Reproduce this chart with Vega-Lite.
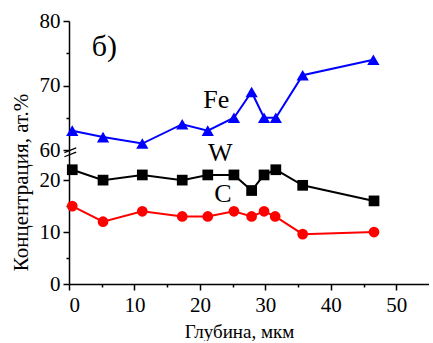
{
  "$schema": "https://vega.github.io/schema/vega-lite/v6.json",
  "autosize": "pad",
  "padding": {"left": 9, "top": 10, "right": 0, "bottom": 0},
  "background": "white",
  "spacing": 0,
  "bounds": "flush",
  "config": {
    "font": "Liberation Serif",
    "view": {"stroke": null},
    "axis": {
      "labelFont": "Liberation Serif", "titleFont": "Liberation Serif",
      "labelFontSize": 21, "titleFontSize": 19, "titleFontWeight": "normal",
      "domainColor": "black", "tickColor": "black", "labelColor": "black", "titleColor": "black",
      "domainWidth": 1.5, "tickWidth": 1.5, "grid": false, "labelPadding": 3
    }
  },
  "datasets": {
    "fe": [
      {"depth": 0.5, "conc": 63}, {"depth": 5.2, "conc": 62}, {"depth": 11.2, "conc": 61},
      {"depth": 17.3, "conc": 64}, {"depth": 21.2, "conc": 63}, {"depth": 25.2, "conc": 65},
      {"depth": 27.9, "conc": 69}, {"depth": 29.8, "conc": 65}, {"depth": 31.6, "conc": 65},
      {"depth": 35.7, "conc": 71.6}, {"depth": 46.5, "conc": 74}
    ],
    "wc": [
      {"el": "W", "depth": 0.5, "conc": 22}, {"el": "W", "depth": 5.2, "conc": 20}, {"el": "W", "depth": 11.2, "conc": 21},
      {"el": "W", "depth": 17.3, "conc": 20}, {"el": "W", "depth": 21.2, "conc": 21}, {"el": "W", "depth": 25.2, "conc": 21},
      {"el": "W", "depth": 27.9, "conc": 18}, {"el": "W", "depth": 29.8, "conc": 21}, {"el": "W", "depth": 31.6, "conc": 22},
      {"el": "W", "depth": 35.7, "conc": 19}, {"el": "W", "depth": 46.6, "conc": 16},
      {"el": "C", "depth": 0.5, "conc": 15}, {"el": "C", "depth": 5.2, "conc": 12}, {"el": "C", "depth": 11.2, "conc": 14},
      {"el": "C", "depth": 17.3, "conc": 13}, {"el": "C", "depth": 21.2, "conc": 13}, {"el": "C", "depth": 25.2, "conc": 14},
      {"el": "C", "depth": 27.9, "conc": 13}, {"el": "C", "depth": 29.8, "conc": 14}, {"el": "C", "depth": 31.5, "conc": 13},
      {"el": "C", "depth": 35.7, "conc": 9.6}, {"el": "C", "depth": 46.6, "conc": 10}
    ]
  },
  "vconcat": [
    {
      "width": 360, "height": 129,
      "data": {"name": "fe"},
      "encoding": {
        "x": {"field": "depth", "type": "quantitative", "scale": {"domain": [0, 55], "nice": false}, "axis": null},
        "y": {"field": "conc", "type": "quantitative", "scale": {"domain": [60, 80], "nice": false, "zero": false},
          "axis": {"title": null, "values": [60, 65, 70, 75, 80], "labelFont": "Liberation Serif",
            "labelExpr": "datum.value % 10 === 0 ? datum.label : ''",
            "tickSize": {"condition": {"test": "datum.value % 10 === 0", "value": 6}, "value": 3}}}
      },
      "layer": [
        {"mark": {"type": "line", "color": "#0000ff", "strokeWidth": 2}},
        {"mark": {"type": "point", "shape": "triangle-up", "size": 150, "filled": true, "color": "#0000ff", "opacity": 1}},
        {"transform": [{"filter": "datum.depth === 0.5"}],
          "mark": {"type": "text", "text": "б)", "fontSize": 30, "font": "Liberation Serif", "fontWeight": "normal", "align": "center", "baseline": "middle", "fill": "black"},
          "encoding": {"x": {"datum": 5.4, "type": "quantitative"}, "y": {"datum": 76, "type": "quantitative"}}},
        {"transform": [{"filter": "datum.depth === 0.5"}],
          "mark": {"type": "text", "text": "Fe", "fontSize": 26, "font": "Liberation Serif", "fontWeight": "normal", "align": "center", "baseline": "middle", "fill": "black"},
          "encoding": {"x": {"datum": 22.5, "type": "quantitative"}, "y": {"datum": 67.75, "type": "quantitative"}}}
      ]
    },
    {
      "width": 360, "height": 134,
      "data": {"name": "wc"},
      "encoding": {
        "x": {"field": "depth", "type": "quantitative", "scale": {"domain": [0, 55], "nice": false},
          "axis": {"title": "Глубина, мкм", "values": [0, 5, 10, 15, 20, 25, 30, 35, 40, 45, 50], "labelFont": "Liberation Serif",
            "labelExpr": "datum.value % 10 === 0 ? datum.label : ''",
            "tickSize": {"condition": {"test": "datum.value % 10 === 0", "value": 6}, "value": 3},
            "labelPadding": 4, "titleX": 170, "titlePadding": 7}},
        "y": {"field": "conc", "type": "quantitative", "scale": {"domain": [0, 25.8], "nice": false},
          "axis": {"title": "Концентрация, ат.%", "values": [0, 5, 10, 15, 20], "labelFont": "Liberation Serif",
            "labelExpr": "datum.value % 10 === 0 ? datum.label : ''",
            "tickSize": {"condition": {"test": "datum.value % 10 === 0", "value": 6}, "value": 3},
            "titleFontSize": 21, "titleX": -48, "titleY": 32, "titleAlign": "center", "titleBaseline": "middle", "titleAngle": -90}}
      },
      "layer": [
        {"mark": {"type": "line", "strokeWidth": 2},
          "encoding": {"color": {"field": "el", "type": "nominal", "scale": {"domain": ["W", "C"], "range": ["#000000", "#ff0000"]}, "legend": null},
            "detail": {"field": "el"}}},
        {"mark": {"type": "point", "size": 115, "filled": true, "opacity": 1},
          "encoding": {"color": {"field": "el", "type": "nominal", "scale": {"domain": ["W", "C"], "range": ["#000000", "#ff0000"]}, "legend": null},
            "shape": {"field": "el", "type": "nominal", "scale": {"domain": ["W", "C"], "range": ["square", "circle"]}, "legend": null}}},
        {"transform": [{"filter": "datum.depth === 0.5 && datum.el === 'W'"}],
          "mark": {"type": "text", "text": "W", "fontSize": 26, "font": "Liberation Serif", "fontWeight": "normal", "align": "center", "baseline": "middle", "fill": "black"},
          "encoding": {"x": {"datum": 23.1, "type": "quantitative"}, "y": {"datum": 25.3, "type": "quantitative"}}},
        {"transform": [{"filter": "datum.depth === 0.5 && datum.el === 'W'"}],
          "mark": {"type": "text", "text": "C", "fontSize": 26, "font": "Liberation Serif", "fontWeight": "normal", "align": "center", "baseline": "middle", "fill": "black"},
          "encoding": {"x": {"datum": 23.5, "type": "quantitative"}, "y": {"datum": 17.4, "type": "quantitative"}}},
        {"transform": [{"filter": "datum.depth === 0.5 && datum.el === 'W'"}],
          "mark": {"type": "rule", "color": "black", "strokeWidth": 1.3, "clip": false},
          "encoding": {"x": {"datum": -0.7, "type": "quantitative"}, "y": {"datum": 25.3, "type": "quantitative"},
            "x2": {"datum": 1.1}, "y2": {"datum": 26.2}}},
        {"transform": [{"filter": "datum.depth === 0.5 && datum.el === 'W'"}],
          "mark": {"type": "rule", "color": "black", "strokeWidth": 1.3, "clip": false},
          "encoding": {"x": {"datum": -0.7, "type": "quantitative"}, "y": {"datum": 24.5, "type": "quantitative"},
            "x2": {"datum": 1.1}, "y2": {"datum": 25.4}}}
      ]
    }
  ]
}
